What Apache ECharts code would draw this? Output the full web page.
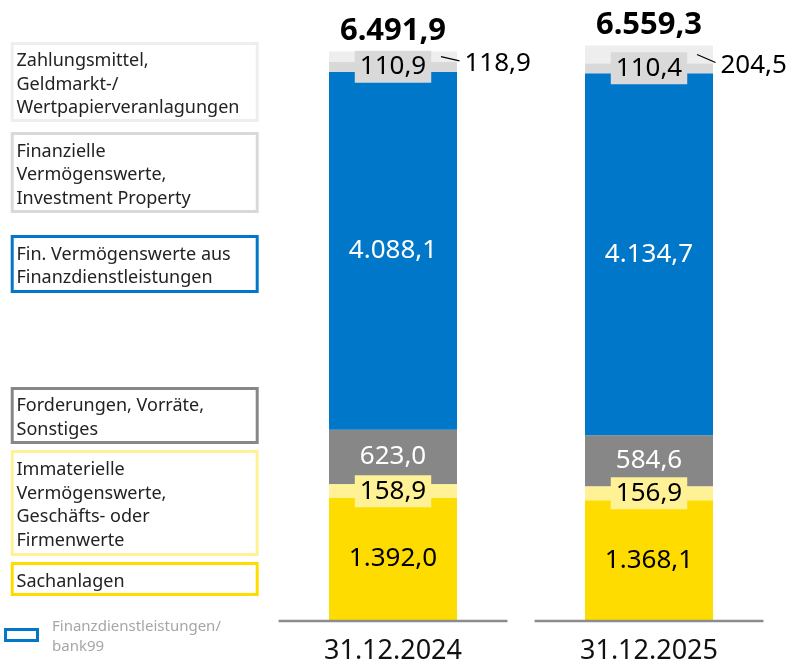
<!DOCTYPE html>
<html>
<head>
<meta charset="utf-8">
<script src="https://cdn.jsdelivr.net/npm/echarts@6/dist/echarts.min.js"></script>
<style>
  html, body { margin: 0; padding: 0; background: #fff; }
  #chart { width: 792px; height: 659px; }
</style>
</head>
<body>
<div id="chart"></div>
<script>
// Balance sheet assets (EUR million), stacked per reporting date
const categories = ['31.12.2024', '31.12.2025'];
const sachanlagen = [1392.0, 1368.1];
const immaterielle = [158.9, 156.9];
const forderungen = [623.0, 584.6];
const finDienstleistungen = [4088.1, 4134.7];
const finanzielleVerm = [110.9, 110.4];
const zahlungsmittel = [118.9, 204.5];
const totals = [6491.9, 6559.3];

// Legend captions (one entry per line), bottom-to-top stack order
const legendLines = [
  ['Sachanlagen'],
  ['Immaterielle', 'Vermögenswerte,', 'Geschäfts- oder', 'Firmenwerte'],
  ['Forderungen, Vorräte,', 'Sonstiges'],
  ['Fin. Vermögenswerte aus', 'Finanzdienstleistungen'],
  ['Finanzielle', 'Vermögenswerte,', 'Investment Property'],
  ['Zahlungsmittel,', 'Geldmarkt-/', 'Wertpapierveranlagungen']
];
const footnoteLines = ['Finanzdienstleistungen/', 'bank99'];

const COLORS = ['#FFDC00', '#FFF195', '#878787', '#0077C8', '#D9D9D9', '#EEEEEE'];
const FONT = 'Noto Sans';

function fmt(v) {
  const parts = v.toFixed(1).split('.');
  const intPart = parts[0].replace(/\B(?=(\d{3})+(?!\d))/g, '.');
  return intPart + ',' + parts[1];
}

const chart = echarts.init(document.getElementById('chart'), null, { renderer: 'canvas' });

function barSeries(name, data, color, label, z) {
  return {
    name: name,
    type: 'bar',
    stack: 'assets',
    barWidth: '50%',
    z: z || 2,
    data: data,
    itemStyle: { color: color },
    emphasis: { disabled: true },
    label: label
  };
}

const valueLabel = (color, extra) => Object.assign({
  show: true,
  position: 'inside',
  color: color,
  fontFamily: FONT,
  fontSize: 26,
  formatter: p => fmt(p.value)
}, extra || {});

// Legend boxes on the left: outer bounds [top, bottom]
const legendBoxes = [
  { top: 562, bottom: 596, color: COLORS[0] },
  { top: 450, bottom: 556, color: COLORS[1] },
  { top: 387, bottom: 444, color: COLORS[2] },
  { top: 235, bottom: 293, color: COLORS[3] },
  { top: 132, bottom: 213, color: COLORS[4] },
  { top: 42, bottom: 122, color: COLORS[5] }
];
const graphics = [];
legendBoxes.forEach((b, i) => {
  graphics.push({
    type: 'rect',
    silent: true,
    shape: { x: 12.2, y: b.top + 1.5, width: 245, height: b.bottom - b.top - 3 },
    style: { fill: '#fff', stroke: b.color, lineWidth: 3 }
  });
  const lines = legendLines[i];
  const lh = 23.5;
  const blockH = lines.length * lh;
  graphics.push({
    type: 'text',
    silent: true,
    x: 16.5,
    y: (b.top + b.bottom) / 2 - blockH / 2 + 2.5,
    style: {
      text: lines.join('\n'),
      fill: '#222',
      font: '18px "' + FONT + '"',
      lineHeight: lh,
      verticalAlign: 'top'
    }
  });
});
graphics.push({
  type: 'rect',
  silent: true,
  shape: { x: 5.5, y: 629.5, width: 32, height: 11 },
  style: { fill: '#fff', stroke: COLORS[3], lineWidth: 3 }
});
graphics.push({
  type: 'text',
  silent: true,
  x: 52,
  y: 617,
  style: {
    text: footnoteLines.join('\n'),
    fill: '#A6A6A6',
    font: '15px "' + FONT + '"',
    lineHeight: 20,
    verticalAlign: 'top'
  }
});

const option = {
  animation: false,
  textStyle: { fontFamily: FONT },
  grid: { left: 265, right: 15, top: 7, bottom: 39, containLabel: false, outerBoundsMode: 'none' },
  xAxis: {
    type: 'category',
    data: categories,
    axisLine: { show: false },
    axisTick: { show: false },
    axisLabel: { color: '#111', fontSize: 27, fontFamily: FONT, margin: 18 }
  },
  yAxis: { type: 'value', min: 0, max: 7000, show: false },
  series: [
    barSeries('Sachanlagen', sachanlagen, COLORS[0], valueLabel('#000')),
    barSeries('Immaterielle Vermögenswerte, Geschäfts- oder Firmenwerte', immaterielle, COLORS[1],
      valueLabel('#000', { backgroundColor: COLORS[1], padding: [2, 5, 1, 5], lineHeight: 29 }), 4),
    barSeries('Forderungen, Vorräte, Sonstiges', forderungen, COLORS[2], valueLabel('#fff')),
    barSeries('Fin. Vermögenswerte aus Finanzdienstleistungen', finDienstleistungen, COLORS[3], valueLabel('#fff')),
    barSeries('Finanzielle Vermögenswerte, Investment Property', finanzielleVerm, COLORS[4],
      valueLabel('#000', { backgroundColor: COLORS[4], padding: [2, 5, 1, 5], lineHeight: 29 }), 4),
    barSeries('Zahlungsmittel, Geldmarkt-/Wertpapierveranlagungen', zahlungsmittel, COLORS[5], { show: false }),
    {
      // baseline segments, totals and the outside label of the top segment
      type: 'custom',
      z: 5,
      silent: true,
      data: categories.map((c, i) => [i]),
      encode: { x: 0 },
      renderItem: function (params, api) {
        const i = api.value(0);
        const band = api.size([1, 0])[0];
        const base = api.coord([i, 0]);
        const top = api.coord([i, totals[i]]);
        const segBottom = api.coord([i, totals[i] - zahlungsmittel[i]]);
        const right = top[0] + band * 0.25;
        const midY = (top[1] + segBottom[1]) / 2;
        const endX = right + 2.5;
        const endY = segBottom[1] - 1;
        return {
          type: 'group',
          children: [
            {
              type: 'line',
              shape: { x1: base[0] - band * 0.447, y1: base[1] + 1, x2: base[0] + band * 0.447, y2: base[1] + 1 },
              style: { stroke: '#8C8C8C', lineWidth: 2.5 }
            },
            {
              type: 'text',
              x: top[0],
              y: top[1] - 20,
              style: {
                text: fmt(totals[i]),
                fill: '#000',
                font: 'bold 31px "' + FONT + '"',
                align: 'center',
                verticalAlign: 'middle'
              }
            },
            {
              type: 'line',
              shape: { x1: right - 16, y1: midY, x2: endX, y2: endY },
              style: { stroke: '#000', lineWidth: 1.2 }
            },
            {
              type: 'text',
              x: endX + 5,
              y: endY + 3,
              style: {
                text: fmt(zahlungsmittel[i]),
                fill: '#000',
                font: '26px "' + FONT + '"',
                align: 'left',
                verticalAlign: 'middle'
              }
            }
          ]
        };
      }
    }
  ],
  graphic: graphics
};

chart.setOption(option);
</script>
</body>
</html>
